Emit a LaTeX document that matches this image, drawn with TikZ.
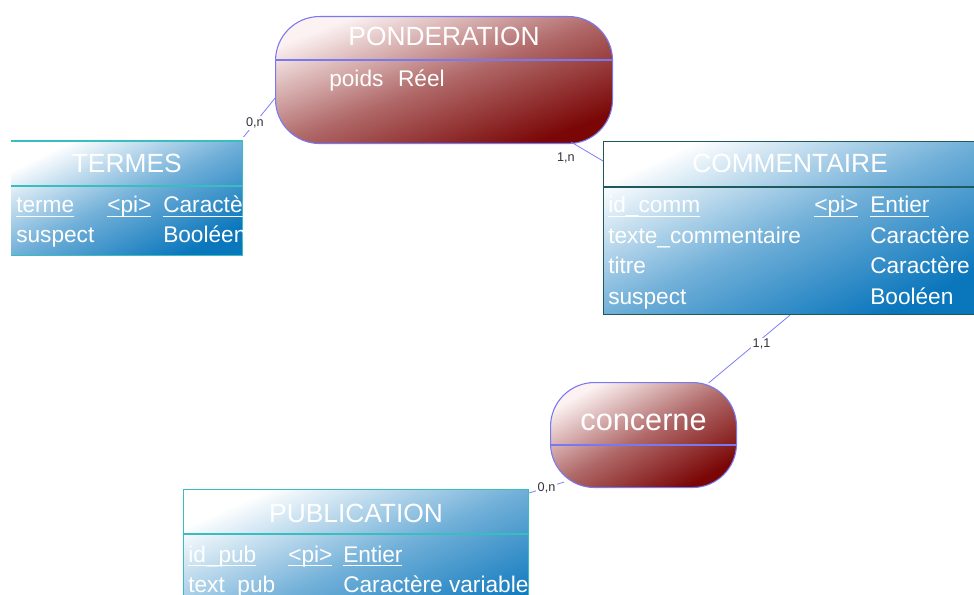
\documentclass[tikz,border=0pt]{standalone}
\usepackage{fontspec}
\setmainfont{Liberation Sans}
\usetikzlibrary{positioning}

\definecolor{entblue}{RGB}{10,118,188}
\definecolor{entline}{RGB}{56,190,190}
\definecolor{entdark}{RGB}{30,90,92}
\definecolor{assocred}{RGB}{122,6,6}
\definecolor{assocpale}{RGB}{252,242,242}
\definecolor{assocline}{RGB}{120,120,240}
\definecolor{linkblue}{RGB}{125,125,250}
\definecolor{cardgray}{RGB}{50,50,60}

% underlined identifier
\newcommand\ukey[1]{\setbox0=\hbox{#1}\rlap{\rule[-3pt]{\wd0}{0.75pt}}\box0}

\tikzset{
  entity/.style={rectangle, anchor=north west, inner sep=0pt,
    top color=white, bottom color=entblue, middle color=entblue!58, shading angle=#1},
  entity line/.style={draw=entline, line width=0.8pt},
  assoc/.style={rectangle, anchor=north west, inner sep=0pt, rounded corners=33pt,
    draw=assocline, line width=0.8pt, top color=assocpale, bottom color=assocred,
    middle color=assocred!58!assocpale, shading angle=#1},
  assoc line/.style={draw=assocline, line width=0.8pt},
  title/.style={anchor=base, inner sep=0pt, text=white, font=\fontsize{19.75}{21}\selectfont},
  field/.style={anchor=base west, inner sep=0pt, text=white, font=\fontsize{17}{19}\selectfont},
  link/.style={draw=linkblue, line width=0.6pt},
  card/.style={fill=white, inner sep=1pt, text=cardgray, font=\fontsize{9.5}{10}\selectfont},
}

\begin{document}
\begin{tikzpicture}[x=0.75pt, y=-0.75pt]
  \useasboundingbox (0,0) rectangle (974,595);
  \clip (0,0) rectangle (974,595);

  % PONDERATION
  \node[assoc=21, minimum width=252.75pt, minimum height=95.25pt] (pond) at (275,16) {};
  \draw[assoc line] ([yshift=-33pt]pond.north west) -- ([yshift=-33pt]pond.north east);
  \node[title] at ([yshift=-22pt]pond.north) {PONDERATION};
  \node[field] at (329,87) {poids\hspace{11pt}Réel};

  % TERMES
  \node[entity=26, minimum width=173.25pt, minimum height=85.5pt] (termes) at (11,141) {};
  \draw[entity line] (termes.north west) -- (termes.north east) -- (termes.south east) -- (termes.south west);
  \draw[entity line] ([yshift=-33.75pt]termes.north west) -- ([yshift=-33.75pt]termes.north east);
  \node[title] at ([yshift=-24pt]termes.north) {TERMES};
  \begin{scope}
    \clip (termes.north west) rectangle (termes.south east);
    \node[field] at (16,213) {\ukey{terme}};
    \node[field] at (107,213) {\ukey{<pi>}};
    \node[field] at (163,213) {\ukey{Caractère}};
    \node[field] at (16,243) {suspect};
    \node[field] at (163,243) {Booléen};
  \end{scope}

  % COMMENTAIRE
  \node[entity=25, draw=entdark, line width=0.8pt, minimum width=279.75pt, minimum height=129.75pt] (comm) at (603,141) {};
  \draw[entity line, draw=entdark] ([yshift=-34.5pt]comm.north west) -- ([yshift=-34.5pt]comm.north east);
  \node[title] at ([yshift=-24pt]comm.north) {COMMENTAIRE};
  \node[field] at (608,213) {\ukey{id\_comm}};
  \node[field] at (814,213) {\ukey{<pi>}};
  \node[field] at (870,213) {\ukey{Entier}};
  \node[field] at (608,244) {texte\_commentaire};
  \node[field] at (870,244) {Caractère};
  \node[field] at (608,274) {titre};
  \node[field] at (870,274) {Caractère};
  \node[field] at (608,305) {suspect};
  \node[field] at (870,305) {Booléen};

  % concerne
  \node[assoc=29, minimum width=139.5pt, minimum height=78.75pt] (conc) at (550,382) {};
  \draw[assoc line] ([yshift=-47.25pt]conc.north west) -- ([yshift=-47.25pt]conc.north east);
  \node[title, font=\fontsize{23}{25}\selectfont] at ([yshift=-36pt]conc.north) {concerne};

  % PUBLICATION
  \node[entity=24, draw=entline, line width=0.8pt, minimum width=258.75pt, minimum height=113.25pt] (pub) at (183,489) {};
  \draw[entity line] ([yshift=-33.75pt]pub.north west) -- ([yshift=-33.75pt]pub.north east);
  \node[title] at ([yshift=-25pt]pub.north) {PUBLICATION};
  \begin{scope}
    \clip (pub.north west) rectangle (pub.south east);
    \node[field] at (188,562) {\ukey{id\_pub}};
    \node[field] at (288,562) {\ukey{<pi>}};
    \node[field] at (343,562) {\ukey{Entier}};
    \node[field] at (188,592) {text\_pub};
    \node[field] at (343,592) {Caractère variable};
  \end{scope}

  % links
  \draw[link] ([shift={(1,81)}]pond.north west) -- node[card, pos=0.65] {0,n} ([shift={(1,-4)}]termes.north east);
  \draw[link] ([shift={(-42,-2)}]pond.south east) -- node[card, fill=none, pos=0.5, left=8pt, yshift=-5pt] {1,n} ([shift={(0,20)}]comm.north west);
  \draw[link] (comm.south) -- node[card, pos=0.35, yshift=-4pt] {1,1} ([shift={(65,1)}]conc.north);
  \draw[link] ([shift={(0,4)}]pub.north east) -- node[card, pos=0.5] {0,n} ([shift={(14,-6)}]conc.south west);
\end{tikzpicture}
\end{document}
